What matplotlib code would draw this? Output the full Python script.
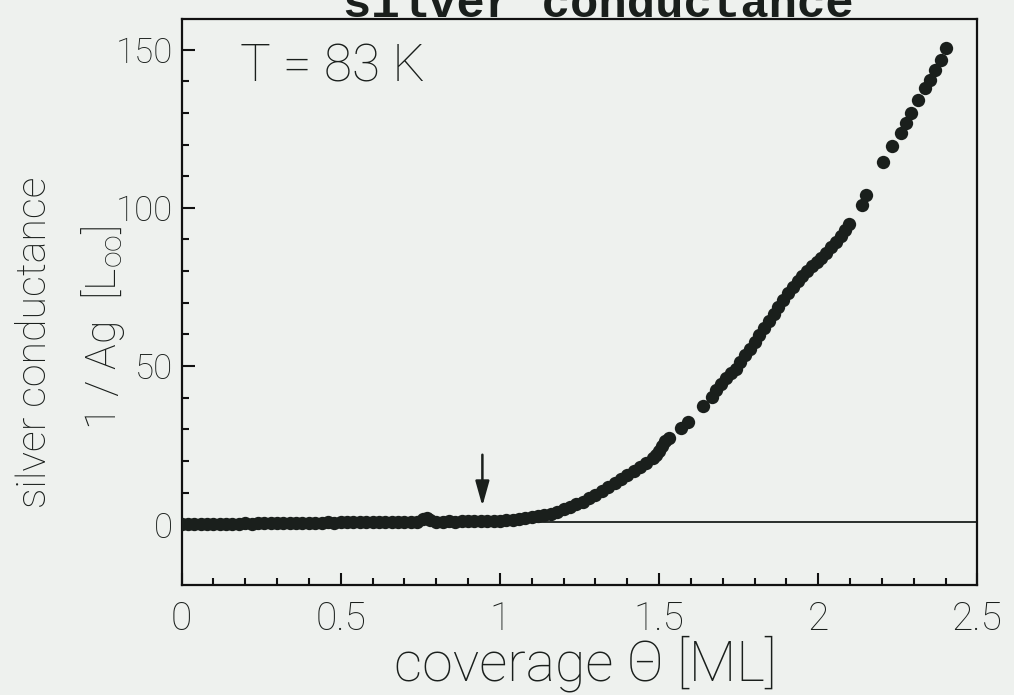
import matplotlib
matplotlib.use("Agg")
import matplotlib.pyplot as plt
from matplotlib import ticker

plt.rcParams['font.family'] = ['Roboto', 'DejaVu Sans']
plt.rcParams['font.weight'] = 'light'

# silver conductance vs. coverage, T = 83 K
coverage = [
    0.00, 0.02, 0.04, 0.06, 0.08, 0.10, 0.12, 0.14, 0.16, 0.18,
    0.20, 0.22, 0.24, 0.26, 0.28, 0.30, 0.32, 0.34, 0.36, 0.38,
    0.40, 0.42, 0.44, 0.46, 0.48, 0.50, 0.52, 0.54, 0.56, 0.58,
    0.60, 0.62, 0.64, 0.66, 0.68, 0.70, 0.72, 0.74, 0.76, 0.77,
    0.78, 0.80, 0.82, 0.84, 0.86, 0.88, 0.90, 0.92, 0.94, 0.96,
    0.98, 1.00, 1.02, 1.04, 1.06, 1.08, 1.10, 1.12, 1.14, 1.16,
    1.18, 1.20, 1.22, 1.24, 1.26, 1.28, 1.30, 1.32, 1.34, 1.36,
    1.38, 1.40, 1.42, 1.44, 1.46, 1.48, 1.49, 1.50, 1.51, 1.52,
    1.532,
    1.569, 1.591, 1.637,
    1.666, 1.68, 1.695, 1.71, 1.725, 1.74, 1.755, 1.77, 1.785, 1.80,
    1.815, 1.83, 1.845, 1.86, 1.875, 1.89, 1.905, 1.92, 1.935, 1.95,
    1.965, 1.98, 1.995, 2.01, 2.025, 2.04, 2.055, 2.07, 2.085, 2.096,
    2.137, 2.150,
    2.204, 2.231, 2.259, 2.275, 2.291, 2.313, 2.335, 2.351, 2.367, 2.384,
    2.402,
]
conductance = [
    0.0, 0.0, 0.1, 0.0, 0.1, 0.1, 0.2, 0.1, 0.2, 0.2,
    0.3, 0.2, 0.3, 0.3, 0.4, 0.3, 0.4, 0.4, 0.5, 0.4,
    0.5, 0.5, 0.5, 0.6, 0.5, 0.6, 0.6, 0.7, 0.6, 0.7,
    0.7, 0.7, 0.8, 0.7, 0.8, 0.8, 0.8, 0.9, 1.6, 2.0,
    1.4, 0.9, 0.9, 1.0, 0.9, 1.0, 1.0, 1.0, 1.1, 1.0,
    1.1, 1.2, 1.3, 1.5, 1.8, 2.1, 2.4, 2.7, 3.0, 3.4,
    4.0, 4.7, 5.4, 6.3, 7.2, 8.2, 9.3, 10.6, 11.9, 13.1,
    14.4, 15.5, 16.8, 18.1, 19.5, 21.0, 21.8, 23.2, 24.8, 26.3,
    27.2,
    30.3, 32.4, 37.3,
    40.1, 42.3, 44.2, 46.1, 47.7, 49.2, 51.2, 53.4, 55.3, 57.6,
    59.9, 62.1, 64.3, 66.5, 68.7, 70.9, 73.0, 75.0, 76.9, 78.5,
    80.0, 81.5, 82.9, 84.3, 85.7, 87.5, 89.3, 91.2, 93.1, 94.8,
    101.0, 103.9,
    114.4, 119.6, 123.7, 126.8, 130.0, 134.2, 137.8, 140.4, 143.6, 146.7,
    150.6,
]

# extrapolated monolayer baseline
baseline_x = [1.0, 2.5]
baseline_y = [0.9, 0.9]

# arrow marking the first monolayer
arrow_x = 0.945
arrow_top = 22.0
arrow_tip = 5.8

x_major = [0, 0.5, 1, 1.5, 2, 2.5]
y_major = [0, 50, 100, 150]
y_minor = [10, 20, 30, 40, 60, 70, 80, 90, 110, 120, 130, 140]

bg = '#eef1ee'
ink = '#1a1f1c'

fig = plt.figure(figsize=(10.14, 6.95), dpi=100, facecolor=bg)
ax = fig.add_axes([0.179, 0.1576, 0.785, 0.8144], facecolor=bg)

ax.plot(baseline_x, baseline_y, color=ink, lw=1.3, zorder=2)
ax.plot(coverage, conductance, 'o', color=ink, ms=9.6, mec=ink, mew=0, zorder=3)

ax.annotate('', xy=(arrow_x, arrow_tip), xytext=(arrow_x, arrow_top),
            arrowprops=dict(arrowstyle='-|>,head_length=1.5,head_width=0.42',
                            color=ink, lw=1.8, shrinkA=0, shrinkB=0))

ax.text(0.073, 0.89, 'T = 83 K', transform=ax.transAxes, fontsize=37,
        va='baseline', ha='left', color=ink)

ax.set_xlim(0, 2.5)
ax.set_ylim(-19.3, 159.5)
ax.xaxis.set_major_locator(ticker.FixedLocator(x_major))
ax.xaxis.set_minor_locator(ticker.MultipleLocator(0.1))
ax.xaxis.set_major_formatter(ticker.FormatStrFormatter('%g'))
ax.yaxis.set_major_locator(ticker.FixedLocator(y_major))
ax.yaxis.set_minor_locator(ticker.FixedLocator(y_minor))

for s in ax.spines.values():
    s.set_linewidth(1.6)
    s.set_color('#111111')

ax.tick_params(which='both', direction='in', top=False, right=False,
               color='#111111', width=1.5, labelcolor=ink)
ax.tick_params(which='major', length=9)
ax.tick_params(which='minor', length=5)
ax.tick_params(axis='x', which='major', labelsize=28, pad=11)
ax.tick_params(axis='y', which='major', labelsize=25, pad=6)

fig.text(35 / 1014, 1 - 342 / 695, 'silver conductance', rotation=90,
         fontsize=29.5, ha='center', va='center', color=ink)
fig.text(103 / 1014, 1 - 328 / 695, '1 / Ag  [L$_\\mathregular{oo}$]', rotation=90,
         fontsize=31, ha='center', va='center', color=ink)
fig.text(585 / 1014, 1 - 664 / 695, 'coverage \u0398 [ML]',
         fontsize=40, ha='center', va='center', color=ink)

# heading, partly off the top edge
fig.text(598 / 1014, 1 - 17 / 695, 'silver conductance', family='Liberation Mono',
         weight='bold', fontsize=34, ha='center', va='baseline', color=ink)

fig.savefig('out.png', dpi=100, facecolor=bg)
